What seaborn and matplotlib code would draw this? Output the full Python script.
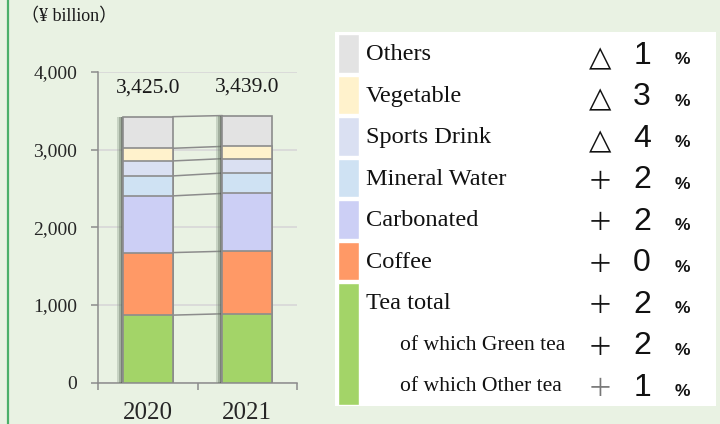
import numpy as np
import pandas as pd
import seaborn as sns
import matplotlib
matplotlib.use("Agg")
import matplotlib.pyplot as plt
from matplotlib import patheffects as pe
from matplotlib.lines import Line2D

# ---------------- data ----------------
years = ["2020", "2021"]
segments = ["Tea total", "Coffee", "Carbonated", "Mineral Water",
            "Sports Drink", "Vegetable", "Others"]          # bottom -> top
values_2020 = [870, 805, 730, 257, 193, 163, 407]
values_2021 = [887, 805, 745, 262, 185, 158, 397]
totals = [3425.0, 3439.0]
seg_colors = ["#A3D468", "#FF9966", "#CCCFF5", "#CFE2F3",
              "#DAE0F2", "#FFF2CC", "#E3E3E3"]
yticks = [0, 1000, 2000, 3000, 4000]

legend_labels = ["Others", "Vegetable", "Sports Drink", "Mineral Water",
                 "Carbonated", "Coffee", "Tea total",
                 "of which Green tea", "of which Other tea"]
legend_signs = ["△", "△", "△", "＋", "＋", "＋", "＋", "＋", "＋"]
legend_pcts = ["1", "3", "4", "2", "2", "0", "2", "2", "1"]
legend_spans = [1, 1, 1, 1, 1, 1, 3]   # rows covered by each colour strip (Others..Tea)

# ---------------- style ----------------
BG = "#E9F2E3"
EDGE = "#8C8C8C"
SERIF = "Liberation Serif"
SANS = "Liberation Sans"

sns.set_theme(style="white")
plt.rcParams["font.family"] = [SERIF, "Noto Sans CJK JP", "DejaVu Sans"]

fig = plt.figure(figsize=(7.2, 4.24), dpi=100, facecolor=BG)
ax = fig.add_axes([98 / 720, 1 - 382.7 / 424, 199 / 720, 310.7 / 424])
ax.set_facecolor(BG)

cum20 = np.cumsum(values_2020)
cum21 = np.cumsum(values_2021)

for k in reversed(range(len(segments))):
    sub = pd.DataFrame({"year": years, "cum": [cum20[k], cum21[k]]})
    sns.barplot(data=sub, x="year", y="cum", color=seg_colors[k], saturation=1,
                width=0.5, edgecolor=EDGE, linewidth=1.2, errorbar=None,
                ax=ax, zorder=3)
    if k == len(segments) - 1:
        for p in ax.patches:
            p.set_path_effects([
                pe.SimplePatchShadow(offset=(-4.5, 0), shadow_rgbFace="#8a9a88", alpha=0.35),
                pe.SimplePatchShadow(offset=(-3, 0), shadow_rgbFace="#5a6a58", alpha=0.35),
                pe.SimplePatchShadow(offset=(-1.5, 0), shadow_rgbFace="#404040", alpha=0.4),
                pe.Normal()])

# connector lines between bars
for k in range(len(segments)):
    ax.plot([0.25, 0.75], [cum20[k], cum21[k]], color=EDGE, lw=1.1, zorder=2)

for i, t in enumerate(totals):
    ax.annotate(f"{t:,.1f}", (i, t), xytext=(0, 20.5), textcoords="offset points",
                ha="center", va="center", fontsize=15.5, family=SERIF, color="#1a1a1a")

ax.set_xlim(-0.5, 1.5)
ax.set_ylim(0, 4000)
ax.set_yticks(yticks)
ax.set_yticklabels([f"{v:,}" for v in yticks], family=SERIF)
ax.yaxis.grid(True, color="#D9D9D9", lw=1.3)
ax.set_axisbelow(True)
ax.set_xlabel("")
ax.set_ylabel("")
for s in ["top", "right"]:
    ax.spines[s].set_visible(False)
for s in ["left", "bottom"]:
    ax.spines[s].set_color(EDGE)
    ax.spines[s].set_linewidth(1.1)

ax.set_xticks([-0.5, 0.5, 1.5])
ax.set_xticklabels([])
ax.set_xticks([0, 1], minor=True)
ax.set_xticklabels(years, minor=True, fontsize=18, family=SERIF)
ax.tick_params(axis="x", which="major", length=5, width=1.1, color=EDGE, direction="out", bottom=True)
ax.tick_params(axis="x", which="minor", length=0, pad=14, bottom=True)
ax.tick_params(axis="y", length=5, width=1.1, color=EDGE, direction="out", pad=10,
               labelsize=14, left=True)

fig.text(21 / 720, 1 - 17 / 424, "（¥ billion）", fontsize=13, va="center", ha="left",
         family=[SERIF, "Noto Sans CJK JP"], color="#1a1a1a")

fig.add_artist(Line2D([7.5 / 720, 7.5 / 720], [0, 1], color="#4CAF6A", lw=1.6))

# ---------------- legend table ----------------
ax2 = fig.add_axes([335 / 720, 1 - 406 / 424, 381 / 720, 374 / 424])
ax2.set_facecolor("white")
ax2.set_xlim(0, 381)
ax2.set_ylim(8.458, -0.554)
for s in ax2.spines.values():
    s.set_visible(False)
ax2.set_xticks([])
ax2.set_yticks([])

start = 0
leg_colors = list(reversed(seg_colors))
for span, col in zip(legend_spans, leg_colors):
    ax2.barh(start + (span - 1) / 2 - 0.04, 21, left=3, height=span - 0.075, color=col)
    start += span

for i, (lab, sg, pc) in enumerate(zip(legend_labels, legend_signs, legend_pcts)):
    sub_item = lab.startswith("of which")
    ax2.text(65 if sub_item else 31, i, lab, va="center", ha="left",
             fontsize=15.6 if sub_item else 17.6, family=SERIF, color="#111111")
    last = i == len(legend_labels) - 1
    if sg == "△":
        ax2.text(265, i + 0.08, sg, va="center", ha="center", fontsize=21,
                 family=["DejaVu Sans"], fontweight="bold", color="#111111")
    else:
        ax2.text(265, i + 0.05, sg, va="center", ha="center", fontsize=18,
                 family=["Noto Sans CJK JP", "DejaVu Sans"],
                 color="#777777" if last else "#111111")
    ax2.text(307, i + 0.02, pc, va="center", ha="center", fontsize=23,
             family=SANS, color="#111111")
    ax2.text(347, i + 0.12, "%", va="center", ha="center", fontsize=12.5,
             family=SANS, fontweight="bold", color="#111111")

fig.savefig("out.png", dpi=100, facecolor=BG)
